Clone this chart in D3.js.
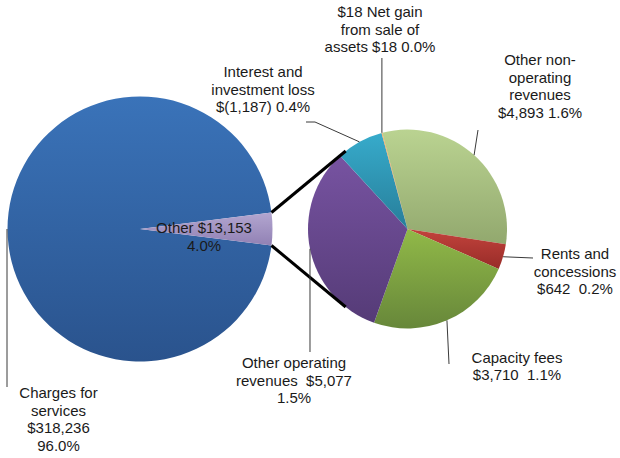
<!DOCTYPE html>
<html>
<head>
<meta charset="utf-8">
<script src="https://cdn.jsdelivr.net/npm/d3@7"></script>
<style>
  html, body { margin: 0; padding: 0; background: #fff; }
  svg text { font-family: "Liberation Sans", Arial, sans-serif; font-size: 15px; fill: #1a1a1a; white-space: pre; }
</style>
</head>
<body>
<svg id="chart" width="620" height="458"></svg>
<script>
// Revenue breakdown: charges for services vs. the smaller "other" sources,
// shown as a pie with the "other" wedge expanded into a second pie.
const chargesCategory = "Charges for services";
const chargesValue = 318236;

const otherCategories = [
  "Other non-operating revenues",
  "Rents and concessions",
  "Capacity fees",
  "Other operating revenues",
  "Interest and investment loss",
  "Net gain from sale of assets"
];
const otherValues = [4893, 642, 3710, 5077, -1187, 18];
const otherPercents = ["1.6%", "0.2%", "1.1%", "1.5%", "0.4%", "0.0%"];
const chargesPercent = "96.0%";
const otherTotalPercent = "4.0%";

// Colours: [top, bottom] of each wedge's vertical shading
const chargesColors = ["#3a73b9", "#2a538d"];
const otherWedgeColors = ["#b3a6d0", "#9181b4"];
const otherColors = [
  ["#bad391", "#92a86e"],
  ["#c3433c", "#982c28"],
  ["#91b948", "#67873a"],
  ["#7753a1", "#553b77"],
  ["#37abcb", "#277e9a"],
  ["#f4a65a", "#e08a3a"]
];

const money = v => v < 0 ? "$(" + d3.format(",")(-v) + ")" : "$" + d3.format(",")(v);

// Label text, line by line
const otherLabelLines = [
  ["Other non-", "operating", "revenues", money(otherValues[0]) + " " + otherPercents[0]],
  ["Rents and", "concessions", money(otherValues[1]) + "  " + otherPercents[1]],
  ["Capacity fees", money(otherValues[2]) + "  " + otherPercents[2]],
  ["Other operating", "revenues  " + money(otherValues[3]), otherPercents[3]],
  ["Interest and", "investment loss", money(otherValues[4]) + " " + otherPercents[4]],
  [money(otherValues[5]) + " Net gain", "from sale of", "assets " + money(otherValues[5]) + " " + otherPercents[5]]
];
const otherSum = d3.sum(otherValues);
const chargesLabelLines = ["Charges for", "services", money(chargesValue), chargesPercent];
const otherWedgeLabelLines = ["Other " + money(otherSum), otherTotalPercent];

// ---- layout ----
const main = { cx: 140, cy: 229, r: 132.5 };
const sub = { cx: 407.5, cy: 229, r: 99.5 };
const lineH = 17.6;

const svg = d3.select("#chart");
const defs = svg.append("defs");

function gradient(id, [top, bottom]) {
  const g = defs.append("linearGradient").attr("id", id)
    .attr("x1", 0).attr("y1", 0).attr("x2", 0).attr("y2", 1);
  g.append("stop").attr("offset", "0%").attr("stop-color", top);
  g.append("stop").attr("offset", "100%").attr("stop-color", bottom);
  return `url(#${id})`;
}

// Primary pie: "other" wedge centred on the right (3 o'clock)
const mainData = [
  { name: chargesCategory, value: chargesValue, fill: gradient("g-charges", chargesColors) },
  { name: "Other", value: otherSum, fill: gradient("g-other", otherWedgeColors) }
];
const otherSpan = 2 * Math.PI * otherSum / d3.sum(mainData, d => d.value);
const mainStart = Math.PI / 2 + otherSpan / 2;
const mainPie = d3.pie().sort(null).value(d => d.value)
  .startAngle(mainStart).endAngle(mainStart + 2 * Math.PI);
const mainArc = d3.arc().innerRadius(0).outerRadius(main.r);
const mainArcs = mainPie(mainData);

const gMain = svg.append("g").attr("transform", `translate(${main.cx},${main.cy})`);
gMain.selectAll("path").data(mainArcs).join("path")
  .attr("d", mainArc)
  .attr("fill", d => d.data.fill);

// Secondary pie: breakdown of the "other" wedge (magnitudes)
const subData = otherCategories.map((name, i) => ({
  name, value: otherValues[i], fill: gradient("g-sub" + i, otherColors[i])
}));
const subStart = -14.7 * Math.PI / 180;
const subPie = d3.pie().sort(null).value(d => Math.abs(d.value))
  .startAngle(subStart).endAngle(subStart + 2 * Math.PI);
const subArc = d3.arc().innerRadius(0).outerRadius(sub.r);
const subArcs = subPie(subData);

const gSub = svg.append("g").attr("transform", `translate(${sub.cx},${sub.cy})`);
gSub.selectAll("path").data(subArcs).join("path")
  .attr("d", subArc)
  .attr("fill", d => d.data.fill);

// Point on a circle at a d3 pie angle (clockwise from 12 o'clock)
const onCircle = (c, a, r = c.r) => [c.cx + r * Math.sin(a), c.cy - r * Math.cos(a)];

// Connector lines between the "other" wedge and the secondary pie
const joinAngle = 38.4 * Math.PI / 180;
const connectors = [
  [onCircle(main, Math.PI / 2 - otherSpan / 2), onCircle(sub, 2 * Math.PI - joinAngle)],
  [onCircle(main, Math.PI / 2 + otherSpan / 2), onCircle(sub, Math.PI + joinAngle)]
];
svg.append("g").selectAll("line").data(connectors).join("line")
  .attr("x1", d => d[0][0]).attr("y1", d => d[0][1])
  .attr("x2", d => d[1][0]).attr("y2", d => d[1][1])
  .attr("stroke", "#000").attr("stroke-width", 3);

// Label placement: text block centre x, first baseline, and leader path after the slice point
const subLabelLayout = [
  { x: 540, y: 65, leader: [[478, 130]] },
  { x: 575, y: 259, leader: [[533, 258]] },
  { x: 517, y: 362.5, leader: [[449, 364]] },
  { x: 294, y: 368, leader: [[null, 352]] },
  { x: 263, y: 77, leader: [[315, 122], [306, 122]] },
  { x: 380, y: 17, leader: [[null, 58]] }
];
const chargesLabelLayout = { x: 58.5, y: 398, leader: [[null, 387]] };

const leaders = svg.append("g").attr("fill", "none").attr("stroke", "#3a3a3a").attr("stroke-width", 1);
const labels = svg.append("g").attr("text-anchor", "middle");

function drawLabel(lines, layout, start) {
  const pts = [start].concat(layout.leader.map(p => [p[0] === null ? start[0] : p[0], p[1]]));
  leaders.append("path").attr("d", d3.line()(pts));
  const t = labels.append("text").attr("x", layout.x).attr("y", layout.y);
  lines.forEach((s, i) => t.append("tspan").attr("x", layout.x).attr("dy", i ? lineH : 0).text(s));
}

subArcs.forEach((d, i) => {
  const mid = (d.startAngle + d.endAngle) / 2;
  drawLabel(otherLabelLines[i], subLabelLayout[i], onCircle(sub, mid));
});
{
  const d = mainArcs[0];
  const mid = (d.startAngle + d.endAngle) / 2;
  drawLabel(chargesLabelLines, chargesLabelLayout, onCircle(main, mid, main.r + 0.5));
}

// Label inside the "other" wedge
const ot = labels.append("text").attr("x", 204).attr("y", 233);
otherWedgeLabelLines.forEach((s, i) => ot.append("tspan").attr("x", 204).attr("dy", i ? lineH : 0).text(s));
</script>
</body>
</html>
